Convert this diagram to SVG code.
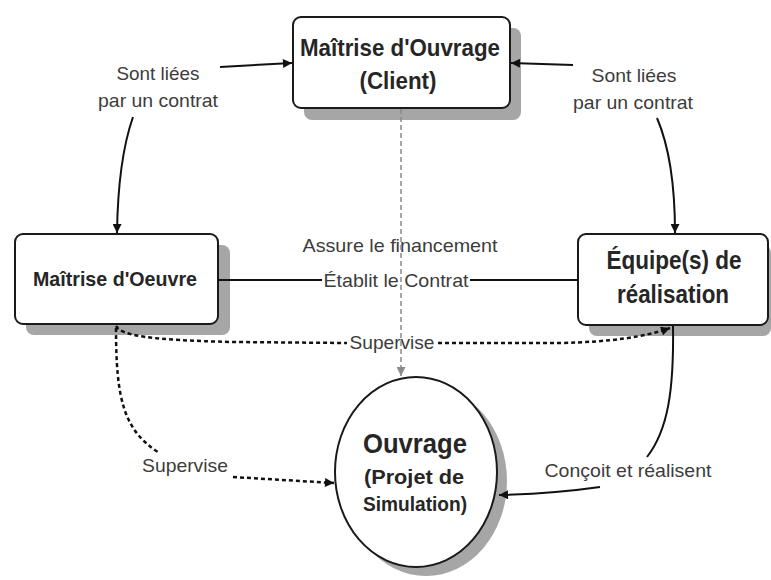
<svg xmlns="http://www.w3.org/2000/svg" width="771" height="580" viewBox="0 0 771 580">
<defs>
<style>
.shadow{fill:#a6a6a6;}
.box{fill:#fff;stroke:#1a1a1a;stroke-width:2;}
.nt{font-family:"Liberation Sans",Arial,sans-serif;font-weight:bold;fill:#262626;text-anchor:middle;}
.lb{font-family:"Liberation Sans",Arial,sans-serif;font-size:19px;fill:#3c3c3c;text-anchor:middle;}
.solid{fill:none;stroke:#111;stroke-width:2;}
.dot{fill:none;stroke:#111;stroke-width:2.5;stroke-dasharray:4 3;}
.gdash{fill:none;stroke:#8a8a8a;stroke-width:1.5;stroke-dasharray:5 3;}
</style>
<marker id="ah" viewBox="0 0 10 10" refX="10" refY="5" markerWidth="10" markerHeight="9" markerUnits="userSpaceOnUse" orient="auto">
<path d="M0,0 L10,5 L0,10 Z" fill="#111"/>
</marker>
<marker id="ahg" viewBox="0 0 10 10" refX="10" refY="5" markerWidth="10" markerHeight="9" markerUnits="userSpaceOnUse" orient="auto">
<path d="M0,0 L10,5 L0,10 Z" fill="#8a8a8a"/>
</marker>
</defs>
<rect width="771" height="580" fill="#fff"/>

<g id="node-client">
<rect class="shadow" x="304" y="28" width="217" height="92" rx="8"/>
<rect class="box" x="293" y="17" width="217" height="91" rx="8"/>
<text class="nt" x="400" y="56" font-size="24" textLength="200" lengthAdjust="spacingAndGlyphs">Maîtrise d'Ouvrage</text>
<text class="nt" x="398" y="89" font-size="24" textLength="77" lengthAdjust="spacingAndGlyphs">(Client)</text>
</g>

<g id="node-moe">
<rect class="shadow" x="26" y="245" width="204" height="90" rx="8"/>
<rect class="box" x="15" y="234" width="203" height="90" rx="8"/>
<text class="nt" x="115" y="286" font-size="21" textLength="164" lengthAdjust="spacingAndGlyphs">Maîtrise d'Oeuvre</text>
</g>

<g id="node-equipe">
<rect class="shadow" x="589" y="245" width="182" height="91" rx="8"/>
<rect class="box" x="578" y="234" width="190" height="91" rx="8"/>
<text class="nt" x="674" y="269" font-size="25" textLength="135" lengthAdjust="spacingAndGlyphs">Équipe(s) de</text>
<text class="nt" x="673" y="303" font-size="25" textLength="112" lengthAdjust="spacingAndGlyphs">réalisation</text>
</g>

<g id="node-ouvrage">
<ellipse class="shadow" cx="426" cy="481" rx="81" ry="95"/>
<ellipse class="box" cx="416" cy="472" rx="81" ry="95"/>
<text class="nt" x="415" y="453" font-size="27" textLength="104" lengthAdjust="spacingAndGlyphs">Ouvrage</text>
<text class="nt" x="414" y="484" font-size="20" textLength="100" lengthAdjust="spacingAndGlyphs">(Projet de</text>
<text class="nt" x="415" y="511" font-size="20" textLength="104" lengthAdjust="spacingAndGlyphs">Simulation)</text>
</g>

<g id="connectors">
<text class="lb" x="158" y="80" textLength="83" lengthAdjust="spacingAndGlyphs">Sont liées</text>
<text class="lb" x="158" y="107" textLength="120" lengthAdjust="spacingAndGlyphs">par un contrat</text>
<text class="lb" x="634" y="82" textLength="85" lengthAdjust="spacingAndGlyphs">Sont liées</text>
<text class="lb" x="633" y="109" textLength="120" lengthAdjust="spacingAndGlyphs">par un contrat</text>
<text class="lb" x="400" y="252" textLength="195" lengthAdjust="spacingAndGlyphs">Assure le financement</text>
<text class="lb" x="396" y="287" textLength="145" lengthAdjust="spacingAndGlyphs">Établit le Contrat</text>
<text class="lb" x="392" y="349" textLength="85" lengthAdjust="spacingAndGlyphs">Supervise</text>
<text class="lb" x="185" y="472" textLength="86" lengthAdjust="spacingAndGlyphs">Supervise</text>
<text class="lb" x="628" y="477" textLength="167" lengthAdjust="spacingAndGlyphs">Conçoit et réalisent</text>

<path class="solid" d="M220,67 L292,63" marker-end="url(#ah)"/>
<path class="solid" d="M133,117 Q118,160 117,233" marker-end="url(#ah)"/>
<path class="solid" d="M573,65 L511,63" marker-end="url(#ah)"/>
<path class="solid" d="M657,118 Q675,160 675,233" marker-end="url(#ah)"/>

<path class="gdash" d="M401,109 L401,376" marker-end="url(#ahg)"/>

<path class="solid" d="M218,280 L322,280"/>
<path class="solid" d="M470,280 L578,280"/>

<path class="dot" d="M116,326 C122,336 150,340 233,342 L347,343"/>
<path class="dot" d="M438,343 L560,343 C610,342 645,337 670,328" marker-end="url(#ah)"/>

<path class="dot" d="M116,328 C116,400 124,430 158,452"/>
<path class="dot" d="M233,477 L334,483" marker-end="url(#ah)"/>

<path class="solid" d="M673,326 C674,390 668,430 647,457"/>
<path class="solid" d="M600,487 C565,492 540,494 499,495" marker-end="url(#ah)"/>
</g>
</svg>
